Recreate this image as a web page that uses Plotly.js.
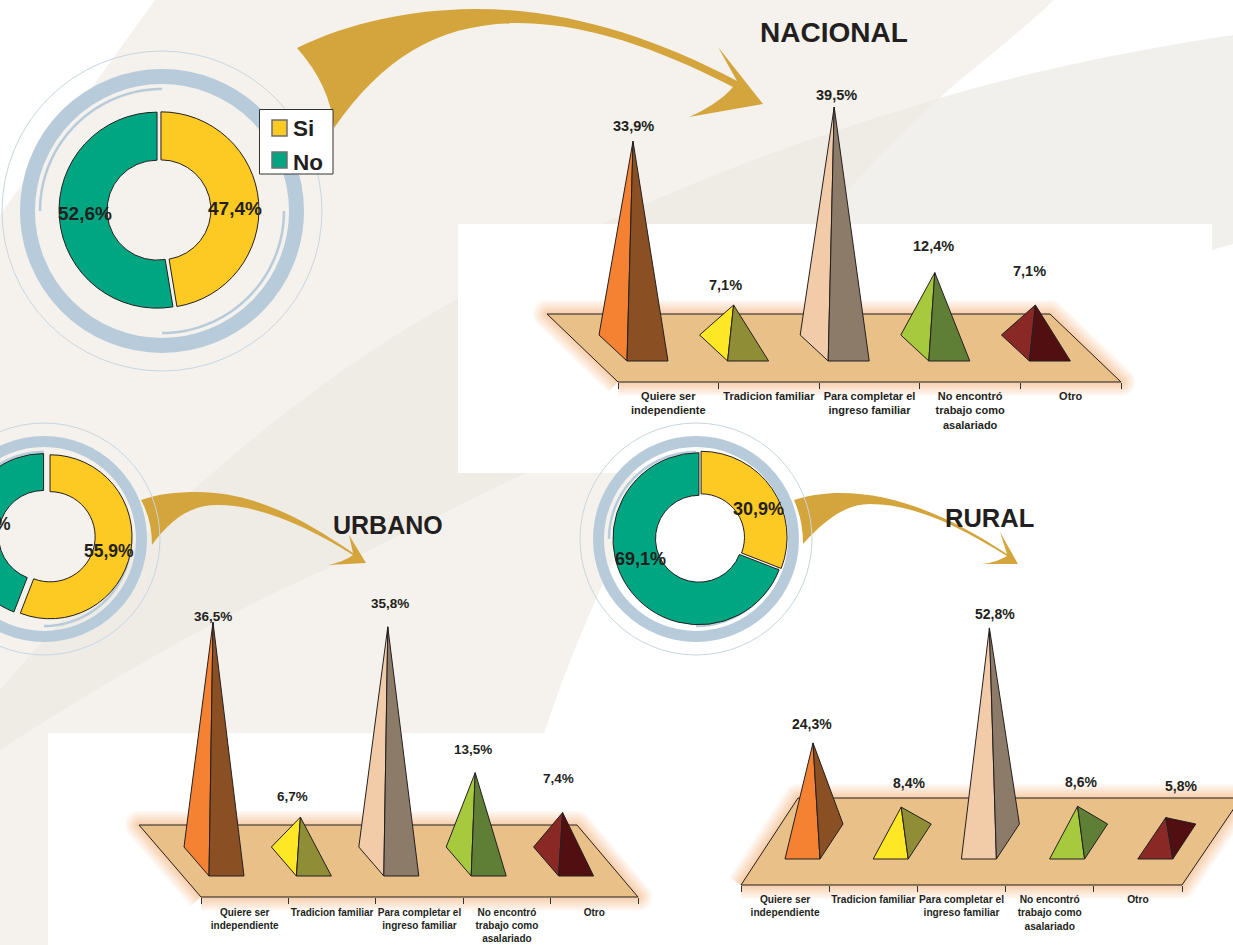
<!DOCTYPE html>
<html><head><meta charset="utf-8">
<script src="https://cdn.plot.ly/plotly-3.0.1.min.js"></script>
<style>html,body{margin:0;padding:0;background:#fff;overflow:hidden;width:1233px;height:945px}
#chart{position:absolute;left:-100px;top:0}
#chart path.js-line{stroke-linejoin:round!important}</style></head>
<body><div id="chart"></div>
<script>
// ---------- data ----------
const categories = ["Quiere ser<br>independiente","Tradicion familiar","Para completar el<br>ingreso familiar","No encontró<br>trabajo como<br>asalariado","Otro"];
const nacionalValues = [33.9, 7.1, 39.5, 12.4, 7.1];
const urbanoValues   = [36.5, 6.7, 35.8, 13.5, 7.4];
const ruralValues    = [24.3, 8.4, 52.8, 8.6, 5.8];
const donutLabels = ["Si","No"];
const nacionalDonut = [47.4, 52.6];
const urbanoDonut   = [55.9, 44.1];
const ruralDonut    = [30.9, 69.1];
const lightColors = ["#f58233","#fee826","#f2cca8","#a6c93d","#8a2825"];
const darkColors  = ["#8a5023","#8f8e36","#8c7b68","#5f7f37","#520f12"];
const donutColors = ["#fdc923","#00a582"];

// ---------- page geometry ----------
const OFF = 100, W = 1233 + OFF, H = 945;
const INK = "#231f20", FONT = "Liberation Sans, Arial, sans-serif";
const fmt = v => v.toFixed(1).replace(".", ",") + "%";

const panels = [
 {name:"NACIONAL", values:nacionalValues, f:618, unit:100.6, apex0:633, yZero:348.4, scale:6.11,
  base:[[-34,335],[-6,361],[35,361]], floor:[[618,382],[1121,382],[1050,314],[547,314]], axisY:382,
  tickSize:11, labelSize:14.5, standoff:6,
  lab:[[0,15],[-8,20],[2,12],[-1,27],[-6,34]]},
 {name:"URBANO", values:urbanoValues, f:201, unit:87.4, apex0:213, yZero:861, scale:6.54,
  base:[[-29,847],[-4,876],[31,876]], floor:[[201,897],[638,897],[577,825],[139,825]], axisY:897,
  tickSize:10, labelSize:13.5, standoff:8,
  lab:[[0,6],[-8,21],[2,23],[-2,23],[-4,34]]},
 {name:"RURAL", values:ruralValues, f:741, unit:88.2, apex0:813, yZero:841, scale:4.035,
  base:[[-28,859],[7,859],[30,824]], floor:[[741,885],[1182,885],[1241,798],[798,798]], axisY:885,
  tickSize:10.2, labelSize:14, standoff:7,
  lab:[[-1,19],[8,24],[6,14],[3,24],[15,32]]}
];

const donuts = [
 {values:nacionalDonut, cx:159, cy:210, r:98, hole:.51, pull:[.02,.02],
  ring:[162,211,134.5,15,160,122], labels:[[235,208],[85,213]], size:19},
 {values:urbanoDonut, cx:46, cy:536, r:82, hole:.55, pull:[.05,.03],
  ring:[44,539,97.5,11,116,87], labels:[[109,551],[-14,524]], size:17.5},
 {values:ruralDonut, cx:700, cy:538, r:86, hole:.505, pull:[.015,.015],
  ring:[696,539,97.5,11,116,87], labels:[[758,509],[640,559]], size:18}
];

const titles = [["NACIONAL",834,32,28],["URBANO",388,525,25],["RURAL",989,518,25.5]];

// ---------- traces ----------
const traces = [];
const layout = {
  width:W, height:H, margin:{l:0,r:0,t:0,b:0,pad:0}, paper_bgcolor:"#fff", plot_bgcolor:"rgba(0,0,0,0)",
  font:{family:FONT,color:INK}, hovermode:false, dragmode:false, showlegend:false,
  xaxis:{range:[-OFF,1233],domain:[0,1],visible:false,fixedrange:true},
  yaxis:{range:[H,0],domain:[0,1],visible:false,fixedrange:true},
  shapes:[], annotations:[]
};
// anchor trace for the page axes
traces.push({type:"scatter",x:[0],y:[0],mode:"none",showlegend:false,hoverinfo:"skip",xaxis:"x",yaxis:"y"});

panels.forEach((p,k)=>{
  const n = k+2, xa="x"+n, ya="y"+n;
  const X = px => (px-p.f)/p.unit, Y = px => (p.yZero-px)/p.scale;
  layout["xaxis"+n] = {range:[X(-OFF),X(1233)],domain:[0,1],anchor:"free",position:1-p.axisY/H,overlaying:"x",
    showgrid:false,zeroline:false,showline:false,fixedrange:true,
    tickmode:"array",tickvals:categories.map((c,i)=>i+.5),ticktext:categories,ticks:"",
    ticklabelstandoff:p.standoff,tickangle:0,
    tickfont:{family:FONT,size:p.tickSize,weight:"bold",color:INK},
    minor:{tickmode:"array",tickvals:[0,1,2,3,4,5],ticks:"outside",ticklen:6,tickwidth:1,tickcolor:"#333",showgrid:false}};
  layout["yaxis"+n] = {range:[Y(H),Y(0)],domain:[0,1],overlaying:"y",visible:false,fixedrange:true};
  const poly = (xs,ys,extra)=>traces.push(Object.assign({type:"scatter",mode:"lines",x:xs,y:ys,xaxis:xa,yaxis:ya,showlegend:false,hoverinfo:"skip"},extra));
  const fx = p.floor.map(q=>X(q[0])).concat(X(p.floor[0][0])), fy = p.floor.map(q=>Y(q[1])).concat(Y(p.floor[0][1]));
  // soft orange glow round the floor
  [28,24,20,16,13,10,7,4].forEach(w=>poly(fx,fy,{line:{color:"#f0a660",width:w},opacity:.075}));
  poly(fx,fy,{fill:"toself",fillcolor:"#e8c088",line:{color:INK,width:1}});
  p.values.forEach((v,i)=>{
    const ax = p.apex0 + p.unit*i, apexU = X(ax);
    const b = p.base.map(q=>[X(ax+q[0]),Y(q[1])]);
    const edge = {color:INK,width:1};
    poly([apexU,b[0][0],b[1][0],apexU],[v,b[0][1],b[1][1],v],{fill:"toself",fillcolor:lightColors[i],line:edge});
    poly([apexU,b[1][0],b[2][0],apexU],[v,b[1][1],b[2][1],v],{fill:"toself",fillcolor:darkColors[i],line:edge});
    layout.annotations.push({xref:xa,yref:ya,x:apexU,y:v,xshift:p.lab[i][0],yshift:p.lab[i][1],showarrow:false,
      text:fmt(v),font:{family:FONT,size:p.labelSize,weight:"bold",color:INK}});
  });
});

donuts.forEach(d=>{
  const maxP = Math.max(...d.pull), R = d.r*(1+maxP);
  traces.push({type:"pie",labels:donutLabels,values:d.values,sort:false,direction:"clockwise",rotation:0,hole:d.hole,pull:d.pull,
    domain:{x:[(d.cx-R+OFF)/W,(d.cx+R+OFF)/W],y:[1-(d.cy+R)/H,1-(d.cy-R)/H]},
    marker:{colors:donutColors,line:{color:INK,width:1}},textinfo:"none",hoverinfo:"skip",showlegend:false});
  d.values.forEach((v,i)=>layout.annotations.push({xref:"x",yref:"y",x:d.labels[i][0],y:d.labels[i][1],showarrow:false,
    text:fmt(v),font:{family:FONT,size:d.size,weight:"bold",color:INK}}));
});

titles.forEach(t=>layout.annotations.push({xref:"x",yref:"y",x:t[1],y:t[2],showarrow:false,text:t[0],
  font:{family:FONT,size:t[3],weight:"bold",color:INK}}));

// ---------- decoration ----------
const S = layout.shapes;
const path = (d,fill)=>S.push({type:"path",xref:"x",yref:"y",layer:"below",path:d,fillcolor:fill,line:{width:0}});
// backdrop sweeps
path("M1233,35 C1100,55 1000,80 940,98 C800,140 650,190 455,300 C330,370 180,480 0,690 L-100,800 L-100,850 L0,750 C140,660 250,600 364,553 C420,525 480,495 526,473 L1212,250 L1233,244 Z","#f2f0ed");
path("M155,0 L1054,0 C1000,50 960,78 940,98 C880,155 850,190 846,193 C760,280 680,410 617,553 C590,610 565,670 544,733.5 L48,733.5 L48,945 L-100,945 L-100,215 L0,215 Z","#f5f2ed");
path("M940,98 C800,140 650,190 455,300 C330,370 180,480 0,690 L-100,800 L-100,850 L0,750 C140,660 250,600 364,553 C420,525 480,495 526,473 L640,435 C700,340 770,270 846,193 C880,155 910,125 940,98 Z","#efece6");
// white panels
S.push({type:"rect",xref:"x",yref:"y",layer:"below",x0:458,x1:1212,y0:224,y1:473,fillcolor:"#fff",line:{width:0}});
S.push({type:"rect",xref:"x",yref:"y",layer:"below",x0:48,x1:1233,y0:733.5,y1:945,fillcolor:"#fff",line:{width:0}});
// swooping arrows
const GOLD="#d4a53d";
path("M297,48 C350,22 410,10 472,9 C560,8 650,35 737,81 L718,47 L763,104 L689,117 C705,110 722,100 733,87 C680,60 600,23 517,23 C440,24 385,55 334,128 Q330,85 297,48 Z",GOLD);
path("M141,500 C158,494 176,492 197,492 C255,492 305,520 353,553 L349,535 L366,563 L328,565 C338,563 346,560 353,555 C310,528 262,505 217,505 C190,505 170,520 152,545 Q152,520 141,500 Z",GOLD);
path("M794,500 C810,495 825,493 840,493 C900,493 955,520 1007,554 L1000,532 L1018,564 L982,564 C992,563 1000,560 1007,556 C960,527 915,504 870,504 C845,504 825,520 803,544 Q803,520 794,500 Z",GOLD);
// rings behind each donut
const arc = (cx,cy,r,a0,a1)=>{let s="";for(let i=0;i<=36;i++){const a=(a0+(a1-a0)*i/36)*Math.PI/180;
  s+=(i?"L":"M")+(cx+r*Math.cos(a)).toFixed(2)+","+(cy+r*Math.sin(a)).toFixed(2)+" ";}return s;};
donuts.forEach(d=>{
  const [cx,cy,rr,sw,thin,ra]=d.ring;
  const circ=(r,w,c)=>S.push({type:"circle",xref:"x",yref:"y",layer:"below",x0:cx-r,x1:cx+r,y0:cy-r,y1:cy+r,fillcolor:"rgba(0,0,0,0)",line:{color:c,width:w}});
  circ(rr,sw,"#b7cbda"); circ(thin,1,"#c5d6e2");
  [[180,270],[0,90]].forEach(a=>S.push({type:"path",xref:"x",yref:"y",layer:"below",path:arc(cx,cy,ra,a[0],a[1]),line:{color:"#b7cbda",width:2.5}}));
});
// legend box
S.push({type:"rect",xref:"x",yref:"y",layer:"above",x0:259.5,x1:333,y0:109.5,y1:174,fillcolor:"#fff",line:{color:"#333",width:1}});
donutLabels.forEach((t,i)=>{
  const top = 120 + 32*i;
  S.push({type:"rect",xref:"x",yref:"y",layer:"above",x0:272,x1:287,y0:top,y1:top+16,fillcolor:donutColors[i],line:{color:"#6d6e71",width:1.5}});
  layout.annotations.push({xref:"x",yref:"y",x:291,y:top+8+2*i,xanchor:"left",showarrow:false,text:t,
    font:{family:FONT,size:22.5,weight:"bold",color:INK}});
});

Plotly.newPlot("chart",traces,layout,{displayModeBar:false,staticPlot:true});
</script></body></html>
